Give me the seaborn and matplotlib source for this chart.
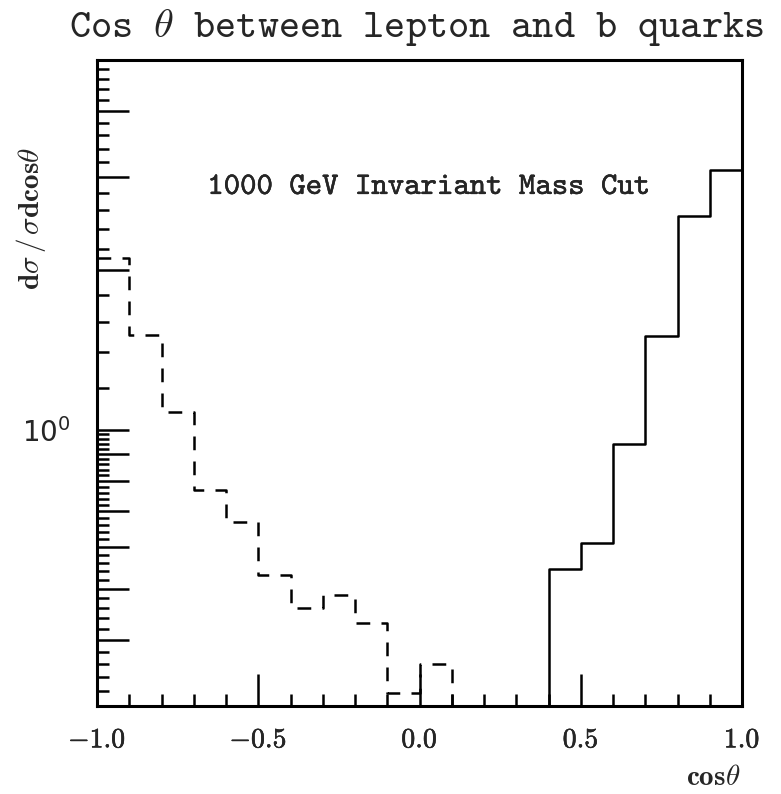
import os
import numpy as np
import pandas as pd
import matplotlib
matplotlib.use("Agg")
import matplotlib.pyplot as plt
from matplotlib.font_manager import FontProperties
from matplotlib.ticker import FixedLocator, FuncFormatter
import matplotlib.patheffects as pe
import seaborn as sns

# Bin edges in cos(theta), 20 bins of width 0.1
bin_edges = [round(-1.0 + 0.1 * i, 2) for i in range(21)]
bin_centers = [round(e + 0.05, 3) for e in bin_edges[:-1]]

# Normalised distributions dσ/σdcosθ per bin
dashed_values = [2.11, 1.51, 1.08, 0.77, 0.67, 0.53, 0.46, 0.487, 0.431, 0.318,
                 0.36, 0, 0, 0, 0, 0, 0, 0, 0, 0]
solid_values = [0, 0, 0, 0, 0, 0, 0, 0, 0, 0,
                0, 0, 0, 0, 0.545, 0.611, 0.941, 1.50, 2.54, 3.10]

y_major = [0.4, 0.5, 0.6, 0.7, 0.8, 0.9, 1, 2, 3, 4]
x_major = [-1.0, -0.5, 0.0, 0.5, 1.0]

df = pd.DataFrame({"cos": bin_centers, "dashed": dashed_values, "solid": solid_values})

sns.set_style("ticks")
plt.rcParams["font.family"] = ["DejaVu Sans"]
plt.rcParams["mathtext.fontset"] = "cm"

# Typewriter face shipped with matplotlib
tt_path = os.path.join(matplotlib.get_data_path(), "fonts", "ttf", "cmtt10.ttf")

fig = plt.figure(figsize=(7.81, 7.94), dpi=100)
ax = fig.add_axes([97 / 781, 1 - 706 / 794, 645 / 781, 646 / 794])

sns.histplot(data=df, x="cos", weights="dashed", bins=bin_edges, element="step",
             fill=False, color="black", linewidth=1.8, linestyle=(0, (5.5, 4.5)), ax=ax)
sns.histplot(data=df, x="cos", weights="solid", bins=bin_edges, element="step",
             fill=False, color="black", linewidth=1.8, ax=ax)

ax.set_yscale("log")
ax.set_xlim(-1.0, 1.0)
ax.set_ylim(0.3, 5.0)

# Long ticks at 0.1 steps below 1 and unit steps above, fine ticks between
ax.yaxis.set_major_locator(FixedLocator(y_major))
minor_y = np.concatenate([np.arange(0.30, 1.0, 0.02), np.arange(1.2, 5.0, 0.2)])
ax.yaxis.set_minor_locator(FixedLocator(minor_y))
ax.yaxis.set_major_formatter(FuncFormatter(lambda v, p: r"$\mathregular{10^0}$" if abs(v - 1) < 1e-9 else ""))
ax.yaxis.set_minor_formatter(FuncFormatter(lambda v, p: ""))

ax.xaxis.set_major_locator(FixedLocator(x_major))
ax.xaxis.set_minor_locator(FixedLocator(np.round(np.arange(-0.9, 1.0, 0.1), 2)))
ax.xaxis.set_major_formatter(FuncFormatter(lambda v, p: rf"${v:.1f}$"))

ax.tick_params(axis="both", which="major", direction="in", length=23, width=1.8,
               top=False, right=False, color="black")
ax.tick_params(axis="both", which="minor", direction="in", length=8.5, width=1.8,
               top=False, right=False, color="black")
ax.tick_params(axis="x", which="major", labelsize=20, pad=14)
ax.tick_params(axis="y", which="major", labelsize=20, pad=19)

for s in ax.spines.values():
    s.set_visible(True)
    s.set_linewidth(2.2)
    s.set_color("black")

light = [pe.withStroke(linewidth=0.35, foreground="black")]
for lbl in ax.get_xticklabels():
    lbl.set_path_effects(light)

ax.set_ylabel(r"$\mathbf{d}\sigma\,/\,\sigma\mathbf{dcos}\theta$", fontsize=21)
ax.yaxis.set_label_coords(-0.076, 0.755)
ax.set_xlabel(r"$\mathbf{cos}\theta$", fontsize=21)
ax.xaxis.set_label_coords(0.955, -0.088)

ax.text(0.514, 0.802, "1000 GeV Invariant Mass Cut", transform=ax.transAxes,
        ha="center", va="center", fontproperties=FontProperties(fname=tt_path, size=22.5),
        path_effects=[pe.withStroke(linewidth=0.3, foreground="black")])

fig.text(416 / 781, 1 - 28 / 794, r"Cos $\theta$ between lepton and b quarks",
         ha="center", va="center", fontproperties=FontProperties(fname=tt_path, size=29))

fig.savefig("out.png", dpi=100)
